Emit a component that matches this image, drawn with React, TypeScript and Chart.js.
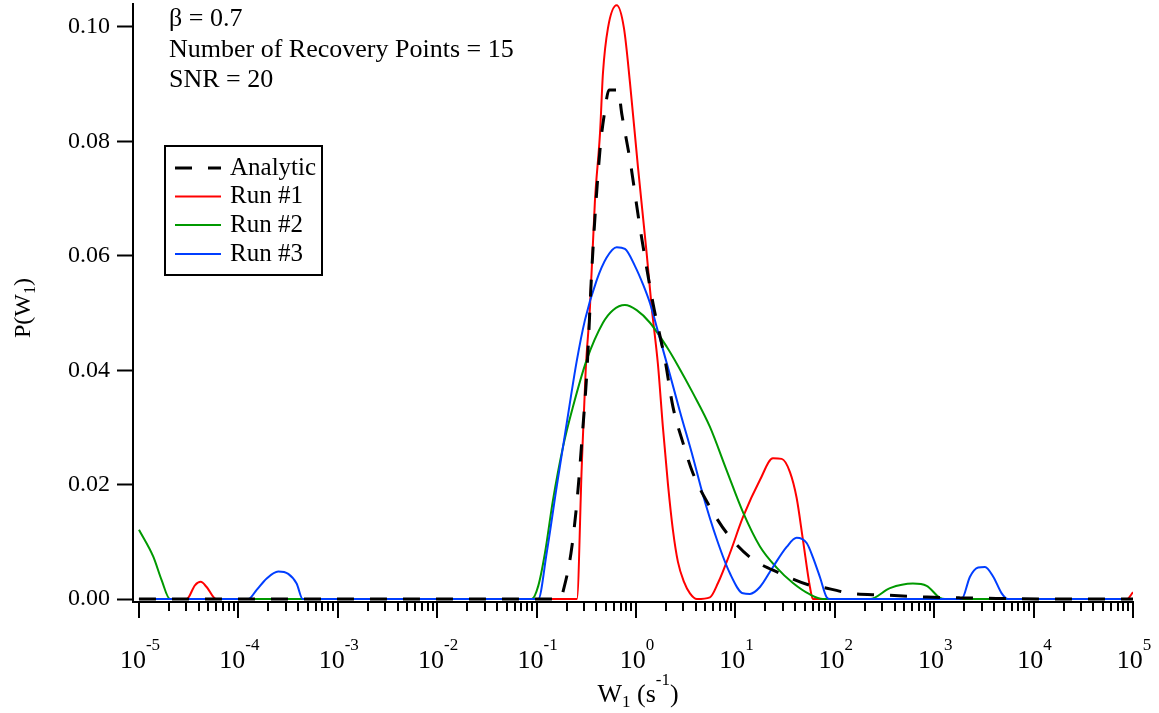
import React, { useEffect, useRef } from 'react';
import { Chart, registerables } from 'chart.js';

Chart.register(...registerables);

// ---- data (x stored as log10 W, y as P(W1)) ----
const analyticLogW = [-5, -0.76, -0.734, -0.654, -0.594, -0.543, -0.493, -0.443, -0.362, -0.312, -0.272, -0.181, -0.141, -0.06, 0.04, 0.171, 0.292, 0.372, 0.473, 0.573, 0.744, 0.915, 1.147, 1.448, 1.75, 1.921, 2.153, 2.485, 2.927, 3.259, 3.662, 4.165, 5];
const analyticP = [0, 0, 0.0013, 0.008, 0.017, 0.028, 0.04, 0.058, 0.0785, 0.0855, 0.089, 0.089, 0.0846, 0.0767, 0.065, 0.0517, 0.0418, 0.0336, 0.0273, 0.022, 0.0161, 0.0115, 0.0073, 0.0045, 0.0024, 0.0019, 0.001, 0.0007, 0.00035, 0.0002, 0.0001, 0, 0];

const run1LogW = [-5, -4.52, -4.437, -4.379, -4.319, -4.225, -0.594, -0.546, -0.506, -0.463, -0.413, -0.362, -0.332, -0.282, -0.194, -0.121, -0.06, 0.02, 0.107, 0.158, 0.221, 0.271, 0.322, 0.372, 0.422, 0.483, 0.543, 0.613, 0.744, 0.825, 0.945, 1.076, 1.247, 1.378, 1.466, 1.549, 1.616, 1.68, 1.75, 1.78, 4.939, 5];
const run1P = [0, 0, 0.0024, 0.003, 0.0021, 0, 0, 0.023, 0.04, 0.051, 0.0696, 0.0814, 0.092, 0.0998, 0.1038, 0.0998, 0.0902, 0.0755, 0.0605, 0.051, 0.041, 0.03, 0.02, 0.012, 0.0065, 0.003, 0.001, 0, 0.0003, 0.0028, 0.008, 0.0143, 0.0208, 0.0246, 0.0245, 0.0222, 0.0177, 0.0103, 0.0021, 0, 0, 0.0012];

const run2LogW = [-5, -4.856, -4.772, -4.688, -1.049, -0.983, -0.916, -0.835, -0.734, -0.634, -0.496, -0.332, -0.232, -0.111, 0.007, 0.141, 0.309, 0.422, 0.573, 0.744, 0.912, 1.076, 1.247, 1.415, 1.579, 1.75, 1.881, 2.354, 2.555, 2.786, 2.924, 3.058, 3.108, 5];
const run2P = [0.0121, 0.0074, 0.0033, 0, 0, 0.0023, 0.008, 0.0173, 0.0266, 0.0336, 0.0418, 0.0483, 0.0505, 0.0514, 0.0505, 0.0483, 0.0441, 0.0408, 0.036, 0.0301, 0.0225, 0.0152, 0.0092, 0.0055, 0.0028, 0.0008, 0, 0, 0.0019, 0.0027, 0.0023, 0.0002, 0, 0];

const run3LogW = [-5, -3.9, -3.816, -3.715, -3.599, -3.498, -3.414, -3.353, -0.983, -0.899, -0.798, -0.697, -0.597, -0.513, -0.396, -0.295, -0.194, -0.111, -0.01, 0.073, 0.141, 0.241, 0.342, 0.442, 0.573, 0.674, 0.812, 0.945, 1.076, 1.147, 1.247, 1.378, 1.516, 1.616, 1.717, 1.78, 1.851, 1.918, 1.951, 3.276, 3.36, 3.443, 3.511, 3.594, 3.679, 3.742, 5];
const run3P = [0, 0, 0.0016, 0.0036, 0.0048, 0.0044, 0.0027, 0, 0, 0.008, 0.0196, 0.0307, 0.0415, 0.0488, 0.0557, 0.0597, 0.0615, 0.0612, 0.0582, 0.0549, 0.0517, 0.0455, 0.0392, 0.0328, 0.0248, 0.0182, 0.0105, 0.0045, 0.001, 0.0009, 0.0021, 0.0056, 0.0091, 0.0107, 0.0098, 0.0073, 0.0038, 0.0003, 0, 0, 0.0039, 0.0055, 0.0056, 0.0039, 0.001, 0, 0];

const seriesLabels = ['Analytic', 'Run #1', 'Run #2', 'Run #3'];
const seriesColors = ['#000000', '#ff0000', 'rgb(0,153,0)', 'rgb(0,62,255)'];
const yTickValues = [0, 0.02, 0.04, 0.06, 0.08, 0.1];
const xDecades = [-5, -4, -3, -2, -1, 0, 1, 2, 3, 4, 5];
const annotationLines = ['β = 0.7', 'Number of Recovery Points = 15', 'SNR = 20'];

const FONT = '"Liberation Serif", "Times New Roman", serif';

type Part = { text: string; size: number; dy: number };

function drawRich(ctx: CanvasRenderingContext2D, parts: Part[], x: number, y: number, align: 'left' | 'center') {
  let total = 0;
  const widths = parts.map((p) => {
    ctx.font = `${p.size}px ${FONT}`;
    const w = ctx.measureText(p.text).width;
    total += w;
    return w;
  });
  let cx = align === 'center' ? x - total / 2 : x;
  ctx.textAlign = 'left';
  ctx.textBaseline = 'alphabetic';
  parts.forEach((p, i) => {
    ctx.font = `${p.size}px ${FONT}`;
    ctx.fillText(p.text, cx, y + p.dy);
    cx += widths[i];
  });
}

const overlayPlugin = {
  id: 'overlay',
  afterDraw(chart: any) {
    const ctx: CanvasRenderingContext2D = chart.ctx;
    const xs = chart.scales.x;
    const area = chart.chartArea;
    ctx.save();
    ctx.fillStyle = '#000';
    ctx.strokeStyle = '#000';
    ctx.lineWidth = 2;

    // x-axis ticks (major & minor)
    const yAxis = area.bottom;
    xDecades.forEach((n) => {
      const maxK = n === xDecades[xDecades.length - 1] ? 1 : 9;
      for (let k = 1; k <= maxK; k++) {
        const px = Math.round(xs.getPixelForValue(k * Math.pow(10, n)));
        const len = k === 1 ? 16 : 9;
        ctx.beginPath();
        ctx.moveTo(px, yAxis);
        ctx.lineTo(px, yAxis + len);
        ctx.stroke();
      }
    });

    // x tick labels 10^n
    xDecades.forEach((n) => {
      const px = xs.getPixelForValue(Math.pow(10, n));
      drawRich(ctx, [
        { text: '10', size: 26, dy: 0 },
        { text: String(n), size: 17, dy: -18 },
      ], px + 1, 668, 'center');
    });

    // x title: W1 (s-1)
    drawRich(ctx, [
      { text: 'W', size: 26, dy: 0 },
      { text: '1', size: 17, dy: 5 },
      { text: ' (s', size: 26, dy: 0 },
      { text: '-1', size: 17, dy: -17 },
      { text: ')', size: 26, dy: 0 },
    ], 638, 702, 'center');

    // y title: P(W1)
    ctx.save();
    ctx.translate(30, 308);
    ctx.rotate(-Math.PI / 2);
    drawRich(ctx, [
      { text: 'P(W', size: 24, dy: 0 },
      { text: '1', size: 16, dy: 5 },
      { text: ')', size: 24, dy: 0 },
    ], 0, 0, 'center');
    ctx.restore();

    // annotation
    annotationLines.forEach((t, i) => {
      drawRich(ctx, [{ text: t, size: 26, dy: 0 }], 169, 26 + i * 30.5, 'left');
    });

    // legend
    ctx.lineWidth = 2;
    ctx.strokeStyle = '#000';
    ctx.strokeRect(165, 146, 157, 129);
    const rowY = [168, 196.5, 225, 254];
    chart.data.datasets.forEach((ds: any, i: number) => {
      const yy = rowY[i];
      ctx.save();
      ctx.strokeStyle = ds.borderColor;
      ctx.lineWidth = ds.borderWidth;
      ctx.setLineDash(ds.borderDash || []);
      ctx.beginPath();
      ctx.moveTo(175, yy);
      ctx.lineTo(221, yy);
      ctx.stroke();
      ctx.restore();
      ctx.fillStyle = '#000';
      ctx.font = `25px ${FONT}`;
      ctx.textAlign = 'left';
      ctx.textBaseline = 'middle';
      ctx.fillText(ds.label, 230, yy);
    });

    ctx.restore();
  },
};

function makeData(logW: number[], p: number[]) {
  return logW.map((lw, i) => ({ x: Math.pow(10, lw), y: p[i] }));
}

export default function App() {
  const canvasRef = useRef<HTMLCanvasElement | null>(null);

  useEffect(() => {
    const canvas = canvasRef.current;
    if (!canvas) return;
    Chart.defaults.font.family = FONT;
    const series = [
      { logW: analyticLogW, p: analyticP, width: 3, dash: [17, 16], order: 0 },
      { logW: run1LogW, p: run1P, width: 2, dash: [] as number[], order: 3 },
      { logW: run2LogW, p: run2P, width: 2, dash: [] as number[], order: 2 },
      { logW: run3LogW, p: run3P, width: 2, dash: [] as number[], order: 1 },
    ];
    const chart = new Chart(canvas, {
      type: 'line',
      data: {
        datasets: series.map((s, i) => ({
          label: seriesLabels[i],
          data: makeData(s.logW, s.p),
          borderColor: seriesColors[i],
          backgroundColor: seriesColors[i],
          borderWidth: s.width,
          borderDash: s.dash,
          pointRadius: 0,
          fill: false,
          cubicInterpolationMode: 'monotone',
          order: s.order,
        })),
      },
      options: {
        responsive: false,
        animation: false,
        devicePixelRatio: 1,
        layout: { padding: { top: 4, right: 26, left: 0, bottom: 0 } },
        plugins: { legend: { display: false }, tooltip: { enabled: false } },
        scales: {
          x: {
            type: 'logarithmic',
            min: Math.pow(10, -5.06),
            max: 1e5,
            afterFit: (s: any) => {
              s.height = 111;
              s.paddingLeft = 0;
              s.paddingRight = 0;
            },
            ticks: { display: false },
            grid: { display: true, drawOnChartArea: false, drawTicks: false },
            border: { display: true, color: '#000', width: 2 },
          },
          y: {
            type: 'linear',
            min: -0.00052,
            max: 0.10402,
            afterBuildTicks: (s: any) => {
              s.ticks = yTickValues.map((v) => ({ value: v }));
            },
            afterFit: (s: any) => {
              s.width = 133;
              s.paddingTop = 0;
              s.paddingBottom = 0;
            },
            ticks: {
              color: '#000',
              padding: 7,
              font: { family: FONT, size: 24 },
              callback: (v: any) => Number(v).toFixed(2),
            },
            grid: { display: true, drawOnChartArea: false, drawTicks: true, tickLength: 16, tickWidth: 2, tickColor: '#000' },
            border: { display: true, color: '#000', width: 2 },
          },
        },
      },
      plugins: [overlayPlugin],
    } as any);
    return () => chart.destroy();
  }, []);

  return (
    <div style={{ position: 'absolute', left: 0, top: 0, width: 1159, height: 713, background: '#fff' }}>
      <canvas ref={canvasRef} width={1159} height={713} style={{ display: 'block' }} />
    </div>
  );
}
